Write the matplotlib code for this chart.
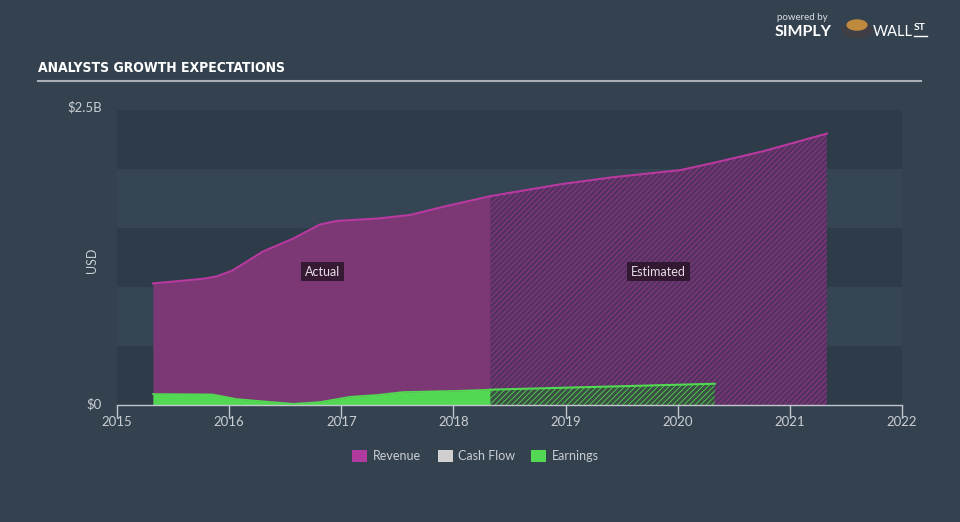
import matplotlib
matplotlib.use("Agg")
import matplotlib.pyplot as plt
from matplotlib.patches import Rectangle, Circle

# values (USD billions)
rev_years = [2015.32, 2015.77, 2015.89, 2016.03, 2016.30, 2016.57, 2016.81, 2016.96,
             2017.32, 2017.61, 2017.91, 2018.33]
rev_vals = [1.03, 1.07, 1.09, 1.14, 1.30, 1.41, 1.53, 1.56, 1.58, 1.61, 1.68, 1.77]
rev_est_years = [2018.33, 2018.95, 2019.42, 2020.02, 2020.31, 2020.76, 2021.33]
rev_est_vals = [1.77, 1.87, 1.93, 1.99, 2.05, 2.15, 2.30]

earn_years = [2015.32, 2015.85, 2016.07, 2016.57, 2016.81, 2017.08, 2017.32, 2017.55,
              2018.03, 2018.33]
earn_vals = [0.093, 0.090, 0.050, 0.010, 0.025, 0.070, 0.085, 0.110, 0.120, 0.130]
earn_est_years = [2018.33, 2020.33]
earn_est_vals = [0.130, 0.180]

year_ticks = [2015, 2016, 2017, 2018, 2019, 2020, 2021, 2022]
legend_labels = ["Revenue", "Cash Flow", "Earnings"]
legend_colors = ["#b03a9e", "#d0d0d0", "#52d852"]

BG = "#344250"
BAND_DARK = "#2e3b48"
BAND_LIGHT = "#354554"
TXT = "#c9ced3"
REV_LINE = "#b8399f"
REV_FILL = "#7b3874"
GREEN = "#52d852"

plt.rcParams["font.family"] = ["Lato", "DejaVu Sans"]
plt.rcParams["hatch.linewidth"] = 0.6

fig = plt.figure(figsize=(9.6, 5.22), dpi=100, facecolor=BG)
ax = fig.add_axes([117 / 960, 1 - 405 / 522, 785 / 960, 295 / 522])
ax.set_facecolor(BG)
ax.set_xlim(2015, 2022)
ax.set_ylim(0, 2.5)

# horizontal bands
for i in range(5):
    ax.axhspan(i * 0.5, (i + 1) * 0.5, color=BAND_DARK if i % 2 == 0 else BAND_LIGHT,
               lw=0, zorder=0)

# revenue actual
ax.fill_between(rev_years, rev_vals, color=REV_FILL, lw=0, zorder=1)
ax.plot(rev_years, rev_vals, color=REV_LINE, lw=1.5, zorder=3)
# revenue estimated (hatched)
ax.fill_between(rev_est_years, rev_est_vals, facecolor="#553260", edgecolor="#93398a",
                hatch="//////", lw=0, zorder=1)
ax.plot(rev_est_years, rev_est_vals, color=REV_LINE, lw=1.5, zorder=3)

# earnings actual
ax.fill_between(earn_years, earn_vals, color=GREEN, lw=0, zorder=2)
ax.plot(earn_years, earn_vals, color=GREEN, lw=1.2, zorder=3)
# earnings estimated
ax.fill_between(earn_est_years, earn_est_vals, facecolor="#3b4f45", edgecolor=GREEN,
                hatch="//////", lw=0, zorder=2)
ax.plot(earn_est_years, earn_est_vals, color=GREEN, lw=1.5, zorder=3)

# region labels
box = dict(boxstyle="square,pad=0.3", fc="#2a1528", ec="none", alpha=0.85)
ax.text(2016.83, 1.13, "Actual", color="#e6dde6", fontsize=9, ha="center", va="center",
        bbox=box, zorder=5)
ax.text(2019.83, 1.13, "Estimated", color="#e6dde6", fontsize=9, ha="center", va="center",
        bbox=box, zorder=5)

# axes styling
for s in ["top", "right", "left"]:
    ax.spines[s].set_visible(False)
ax.spines["bottom"].set_color("#c0c6cc")
ax.spines["bottom"].set_linewidth(1)
ax.set_xticks(year_ticks)
ax.set_xticklabels([str(y) for y in year_ticks])
ax.tick_params(axis="x", colors="#c0c6cc", labelcolor=TXT, labelsize=9.5, length=9,
               width=1, pad=-1, direction="out")
ax.set_yticks([])

fig.text(102 / 960, 1 - 107 / 522, "$2.5B", color=TXT, fontsize=9.5, ha="right", va="center")
fig.text(102 / 960, 1 - 404 / 522, "$0", color=TXT, fontsize=9.5, ha="right", va="center")
fig.text(92 / 960, 1 - 260 / 522, "USD", color=TXT, fontsize=9, rotation=90,
         ha="center", va="center")

# title and rule
fig.text(38 / 960, 1 - 68 / 522, "ANALYSTS GROWTH EXPECTATIONS", color="white",
         fontsize=10, fontweight="bold", fontstretch="condensed", ha="left", va="center",
         family=["DejaVu Sans"])
fig.add_artist(plt.Line2D([38 / 960, 921 / 960], [1 - 81 / 522, 1 - 81 / 522],
                          color="#a9afb5", lw=1.5))

# logo
fig.text(777 / 960, 1 - 18 / 522, "powered by", color="#d8dce0", fontsize=7,
         ha="left", va="center")
fig.text(775 / 960, 1 - 32 / 522, "SIMPLY", color="white", fontsize=11.5,
         fontweight="bold", ha="left", va="center")
fig.text(873 / 960, 1 - 32 / 522, "WALL", color="white", fontsize=10.5,
         ha="left", va="center")
fig.text(914 / 960, 1 - 28 / 522, "ST", color="white", fontsize=7.5, fontweight="bold",
         ha="left", va="center")
fig.add_artist(plt.Line2D([914 / 960, 927 / 960], [1 - 36 / 522, 1 - 36 / 522],
                          color="white", lw=1))
fig.add_artist(Circle((857 / 960, 1 - 30 / 522), 0.016, transform=fig.transFigure,
                      fc="#3e3e44", ec="none"))
fig.add_artist(Circle((857 / 960, 1 - 25 / 522), 0.011, transform=fig.transFigure,
                      fc="#c08a3e", ec="none"))

# legend
leg_x = [352, 438, 531]
txt_x = [373, 458, 552]
for lx, tx, lab, col in zip(leg_x, txt_x, legend_labels, legend_colors):
    fig.add_artist(Rectangle((lx / 960, 1 - 462 / 522), 15 / 960, 12 / 522,
                             transform=fig.transFigure, fc=col, ec="none"))
    fig.text(tx / 960, 1 - 456 / 522, lab, color=TXT, fontsize=9, ha="left", va="center")

fig.savefig("out.png", dpi=100, facecolor=BG)
